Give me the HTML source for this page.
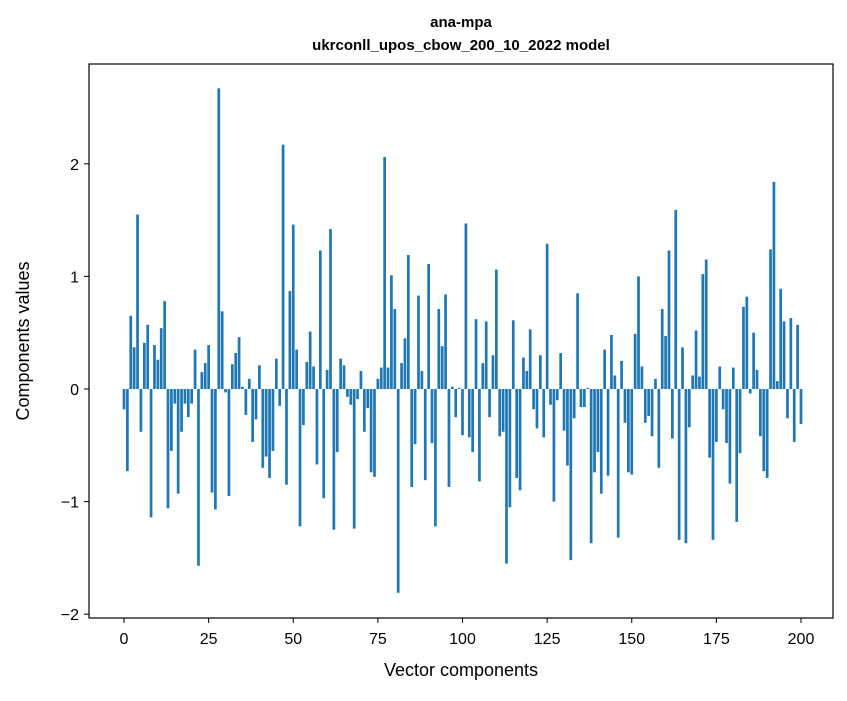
<!DOCTYPE html>
<html><head><meta charset="utf-8"><style>
body{margin:0;background:#fff;}
svg text{font-family:"Liberation Sans",sans-serif;fill:#000;}
</style></head><body>
<svg id="chart" width="847" height="696" xmlns="http://www.w3.org/2000/svg">
<rect width="847" height="696" fill="#fff"/>
<text x="461" y="27" text-anchor="middle" font-size="15" font-weight="bold">ana-mpa</text>
<text x="461" y="50" text-anchor="middle" font-size="15" font-weight="bold">ukrconll_upos_cbow_200_10_2022 model</text>
<g id="bars"></g>
<g id="axes"></g>
<rect x="89" y="64" width="744" height="554" fill="none" stroke="#000" stroke-width="1.2"/>
<text x="461" y="676" text-anchor="middle" font-size="18">Vector components</text>
<text transform="translate(29,341) rotate(-90)" text-anchor="middle" font-size="18">Components values</text>
</svg>
<script>
const values = [-0.18,-0.73,0.65,0.37,1.55,-0.38,0.41,0.57,-1.14,0.39,0.26,0.54,0.78,-1.06,-0.55,-0.13,-0.93,-0.38,-0.13,-0.25,-0.13,0.35,-1.57,0.15,0.23,0.39,-0.92,-1.07,2.67,0.69,-0.03,-0.95,0.22,0.32,0.46,0.02,-0.23,0.09,-0.47,-0.27,0.21,-0.70,-0.60,-0.79,-0.55,0.27,-0.15,2.17,-0.85,0.87,1.46,0.35,-1.22,-0.32,0.24,0.51,0.20,-0.67,1.23,-0.97,0.17,1.42,-1.25,-0.56,0.27,0.21,-0.07,-0.14,-1.24,-0.09,0.16,-0.38,-0.17,-0.74,-0.78,0.09,0.19,2.06,0.19,1.01,0.71,-1.81,0.23,0.45,1.19,-0.87,-0.49,0.83,0.16,-0.81,1.11,-0.48,-1.22,0.71,0.38,0.84,-0.87,0.02,-0.25,0.01,-0.41,1.47,-0.43,-0.56,0.62,-0.82,0.23,0.60,-0.25,0.30,1.06,-0.42,-0.38,-1.55,-1.05,0.61,-0.79,-0.90,0.28,0.16,0.53,-0.18,-0.35,0.30,-0.43,1.29,-0.14,-1.00,-0.10,0.32,-0.37,-0.68,-1.52,-0.26,0.85,-0.16,-0.16,0.01,-1.37,-0.74,-0.56,-0.93,0.35,-0.77,0.48,0.12,-1.32,0.25,-0.30,-0.74,-0.76,0.49,1.00,0.20,-0.30,-0.24,-0.42,0.09,-0.70,0.71,0.47,1.23,-0.44,1.59,-1.34,0.37,-1.37,-0.34,0.12,0.52,0.11,1.02,1.15,-0.61,-1.34,-0.47,0.20,-0.18,-0.48,-0.84,0.19,-1.18,-0.57,0.73,0.82,-0.04,0.50,0.17,-0.42,-0.73,-0.79,1.24,1.84,0.07,0.89,0.60,-0.26,0.63,-0.47,0.57,-0.31];
const xTicks = [0,25,50,75,100,125,150,175,200];
const yTicks = [-2,-1,0,1,2];
const NS="http://www.w3.org/2000/svg";
const xs = v => 124 + v*3.385;
const ys = v => 389 - v*112.6;
const bars=document.getElementById('bars');
values.forEach((v,i)=>{
  const r=document.createElementNS(NS,'rect');
  const w=0.8*3.385;
  r.setAttribute('x',xs(i)-w/2);
  r.setAttribute('width',w);
  r.setAttribute('y',Math.min(ys(v),ys(0)));
  r.setAttribute('height',Math.abs(ys(v)-ys(0)));
  r.setAttribute('fill','#1f77b4');
  
  
  bars.appendChild(r);
});
const axes=document.getElementById('axes');
xTicks.forEach(t=>{
  const l=document.createElementNS(NS,'line');
  l.setAttribute('x1',xs(t));l.setAttribute('x2',xs(t));
  l.setAttribute('y1',618);l.setAttribute('y2',623);
  l.setAttribute('stroke','#000');
  
  
  axes.appendChild(l);
  const tx=document.createElementNS(NS,'text');
  tx.setAttribute('x',xs(t));tx.setAttribute('y',644);
  tx.setAttribute('text-anchor','middle');tx.setAttribute('font-size','16');
  tx.textContent=t;
  
  
  axes.appendChild(tx);
});
yTicks.forEach(t=>{
  const l=document.createElementNS(NS,'line');
  l.setAttribute('x1',84);l.setAttribute('x2',89);
  l.setAttribute('y1',ys(t));l.setAttribute('y2',ys(t));
  l.setAttribute('stroke','#000');
  
  
  axes.appendChild(l);
  const tx=document.createElementNS(NS,'text');
  tx.setAttribute('x',79);tx.setAttribute('y',ys(t)+6);
  tx.setAttribute('text-anchor','end');tx.setAttribute('font-size','16');
  tx.textContent=t<0?'\u2212'+Math.abs(t):t;
  
  
  axes.appendChild(tx);
});
</script>
</body></html>
